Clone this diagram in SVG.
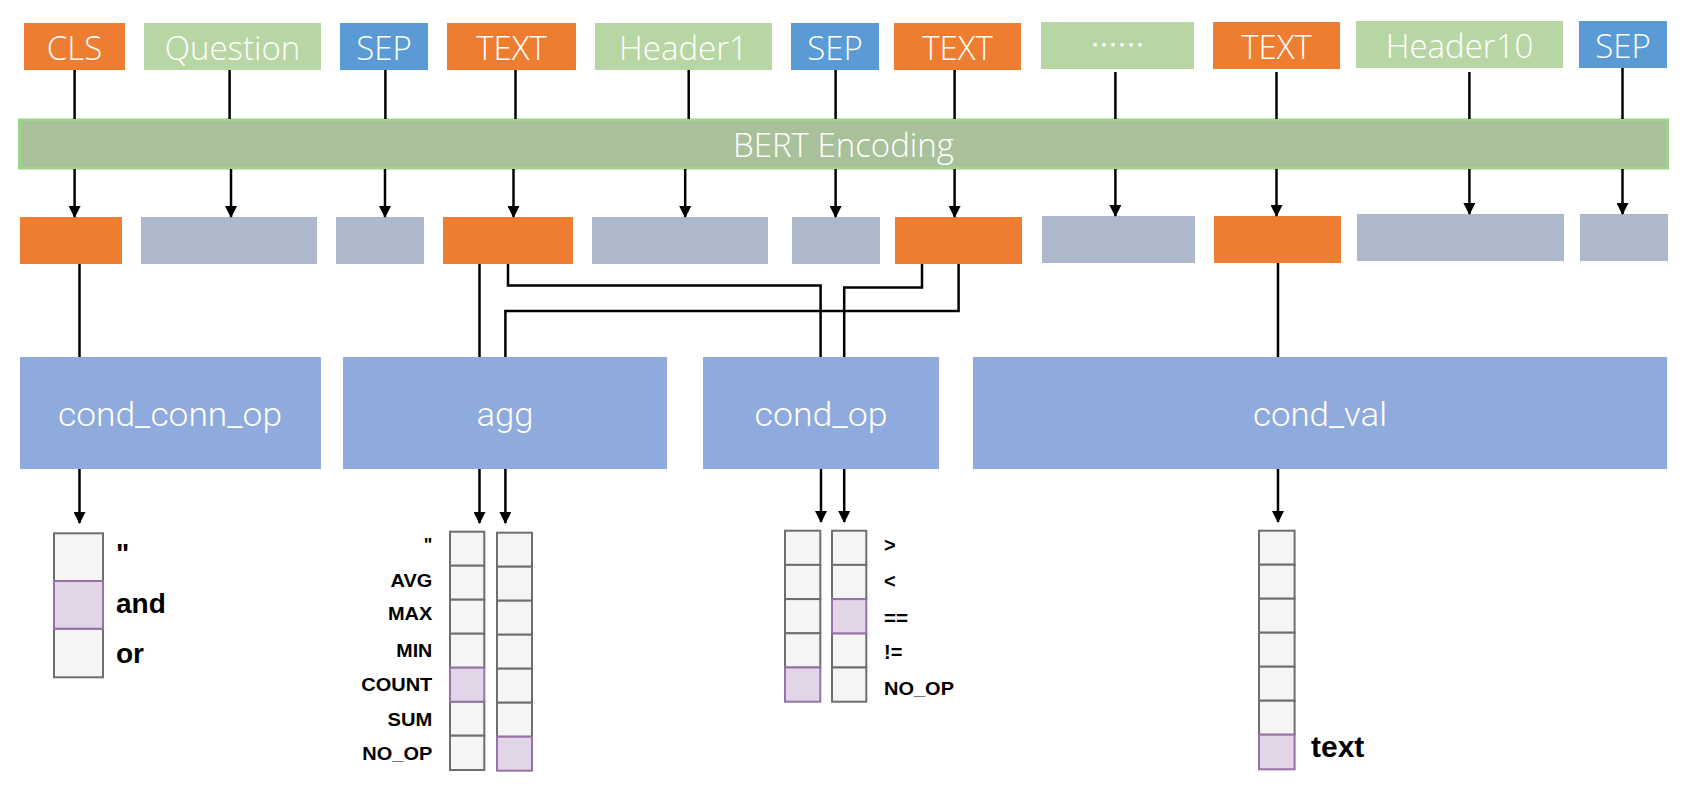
<svg xmlns="http://www.w3.org/2000/svg" width="1682" height="786" viewBox="0 0 1682 786">
<style>
.tok{font-family:"Open Sans","Liberation Sans",sans-serif;font-weight:300;font-size:33px;fill:#fff;text-anchor:middle}
.org{fill:#ED7D31}
.grn{fill:#B8D6A3}
.blu{fill:#5B9BD5}
.emb{fill:#ADB9CA}
.node{fill:#8FAADC}
.nt{font-family:Roboto,"Liberation Sans",sans-serif;font-weight:300;font-size:33px;fill:#fff;text-anchor:middle}
.cell{fill:#F5F5F5;stroke:#6E6E6E;stroke-width:2}
.sel{fill:#E1D5E7;stroke:#9673A6;stroke-width:2}
.lab{font-family:"Liberation Sans",Arial,sans-serif;font-weight:bold;font-size:18px;fill:#000}
.sym{font-family:"Liberation Sans",Arial,sans-serif;font-weight:bold;font-size:20px;fill:#000}
.big{font-family:"Liberation Sans",Arial,sans-serif;font-weight:bold;font-size:28px;fill:#000}
.c{fill:none;stroke:#000;stroke-width:2.5}
.a{fill:none;stroke:#000;stroke-width:2.5;marker-end:url(#ah)}
</style>
<defs>
<marker id="ah" viewBox="0 0 12 12" markerWidth="12" markerHeight="12" refX="11" refY="6" orient="auto" markerUnits="userSpaceOnUse">
<path d="M0,0 L12,6 L0,12 z" fill="#000"/>
</marker>
</defs>
<rect width="1682" height="786" fill="#fff"/>

<!-- input tokens -->
<g id="tok-cls"><rect class="org" x="24" y="23" width="101" height="47"/><text class="tok" x="74.5" y="60">CLS</text></g>
<g id="tok-question"><rect class="grn" x="144" y="23" width="177" height="47"/><text class="tok" x="232.5" y="60">Question</text></g>
<g id="tok-sep1"><rect class="blu" x="340" y="23" width="88" height="47"/><text class="tok" x="384" y="60">SEP</text></g>
<g id="tok-text1"><rect class="org" x="447" y="23" width="129" height="47"/><text class="tok" x="511.5" y="60">TEXT</text></g>
<g id="tok-header1"><rect class="grn" x="595" y="23" width="177" height="47"/><text class="tok" x="683.5" y="60">Header1</text></g>
<g id="tok-sep2"><rect class="blu" x="791" y="23" width="88" height="47"/><text class="tok" x="835" y="60">SEP</text></g>
<g id="tok-text2"><rect class="org" x="894" y="23" width="127" height="47"/><text class="tok" x="957.5" y="60">TEXT</text></g>
<g id="tok-dots"><rect class="grn" x="1041" y="22" width="153" height="47"/><text x="1117.5" y="55" font-family="'Noto Sans CJK SC','Noto Sans',sans-serif" font-size="27" fill="#fff" text-anchor="middle">……</text></g>
<g id="tok-text3"><rect class="org" x="1213" y="22" width="127" height="47"/><text class="tok" x="1276.5" y="58.5">TEXT</text></g>
<g id="tok-header10"><rect class="grn" x="1356" y="21" width="207" height="47"/><text class="tok" x="1459.5" y="58">Header10</text></g>
<g id="tok-sep3"><rect class="blu" x="1579" y="21" width="88" height="47"/><text class="tok" x="1623" y="58">SEP</text></g>

<!-- BERT bar -->
<g id="bert"><rect x="19.5" y="120" width="1648" height="48" fill="#A9C19A" stroke="#A0D38B" stroke-width="3"/><text class="tok" x="843.5" y="157">BERT Encoding</text></g>

<!-- embeddings -->
<g id="emb-cls"><rect class="org" x="20" y="217" width="102" height="47"/></g>
<g id="emb-question"><rect class="emb" x="141" y="217" width="176" height="47"/></g>
<g id="emb-sep1"><rect class="emb" x="336" y="217" width="88" height="47"/></g>
<g id="emb-text1"><rect class="org" x="443" y="217" width="130" height="47"/></g>
<g id="emb-header1"><rect class="emb" x="592" y="217" width="176" height="47"/></g>
<g id="emb-sep2"><rect class="emb" x="792" y="217" width="88" height="47"/></g>
<g id="emb-text2"><rect class="org" x="895" y="217" width="127" height="47"/></g>
<g id="emb-dots"><rect class="emb" x="1042" y="216" width="153" height="47"/></g>
<g id="emb-text3"><rect class="org" x="1214" y="216" width="127" height="47"/></g>
<g id="emb-header10"><rect class="emb" x="1357" y="214" width="207" height="47"/></g>
<g id="emb-sep3"><rect class="emb" x="1580" y="214" width="88" height="47"/></g>

<!-- task nodes -->
<g id="node-cond-conn-op"><rect class="node" x="20" y="357" width="301" height="112"/><text class="nt" x="170" y="426" textLength="224" lengthAdjust="spacingAndGlyphs">cond_conn_op</text></g>
<g id="node-agg"><rect class="node" x="343" y="357" width="324" height="112"/><text class="nt" x="505" y="426" textLength="57" lengthAdjust="spacingAndGlyphs">agg</text></g>
<g id="node-cond-op"><rect class="node" x="703" y="357" width="236" height="112"/><text class="nt" x="821" y="426" textLength="133" lengthAdjust="spacingAndGlyphs">cond_op</text></g>
<g id="node-cond-val"><rect class="node" x="973" y="357" width="694" height="112"/><text class="nt" x="1320" y="426" textLength="134" lengthAdjust="spacingAndGlyphs">cond_val</text></g>

<!-- connectors -->
<g id="connectors">
<path class="c" d="M74.6,70 V119 M229.6,70 V119 M385.4,70 V119 M515.5,70 V119 M688.7,70 V119 M835.6,70 V119 M954.6,70 V119 M1115.4,72 V119 M1276.5,72 V119 M1469.4,72 V119 M1622.5,68 V119"/>
<path class="a" d="M74.6,169 V217"/>
<path class="a" d="M231,169 V217"/>
<path class="a" d="M385,169 V217"/>
<path class="a" d="M513.5,169 V217"/>
<path class="a" d="M685.2,169 V217"/>
<path class="a" d="M835.6,169 V217"/>
<path class="a" d="M954.6,169 V217"/>
<path class="a" d="M1115.4,169 V216"/>
<path class="a" d="M1276.5,169 V216"/>
<path class="a" d="M1469.4,169 V214"/>
<path class="a" d="M1622.5,169 V214"/>
<path class="c" d="M79.5,264 V357"/>
<path class="c" d="M479.5,264 V357"/>
<path class="c" d="M508,264 V285.5 H820.6 V357"/>
<path class="c" d="M922,264 V287.5 H844.2 V357"/>
<path class="c" d="M958.6,264 V311 H505.4 V357"/>
<path class="c" d="M1278,263 V357"/>
<path class="a" d="M79.5,469 V523"/>
<path class="a" d="M479.5,469 V523"/>
<path class="a" d="M505.4,469 V523"/>
<path class="a" d="M821,469 V522"/>
<path class="a" d="M844.2,469 V522"/>
<path class="a" d="M1278,469 V522"/>
</g>

<!-- cond_conn_op output -->
<g id="out-cond-conn-op">
<rect class="cell" x="54" y="533.3" width="49" height="47.8"/>
<rect class="cell" x="54" y="628.7" width="49" height="48.6"/>
<rect class="sel" x="54" y="581" width="49" height="47.7"/>
<text class="big" x="116" y="563.3">"</text>
<text class="big" x="116" y="613.3">and</text>
<text class="big" x="116" y="663.3">or</text>
</g>

<!-- agg output -->
<g id="out-agg">
<rect class="cell" x="450" y="531.7" width="34.3" height="34"/>
<rect class="cell" x="450" y="565.7" width="34.3" height="34"/>
<rect class="cell" x="450" y="599.7" width="34.3" height="34"/>
<rect class="cell" x="450" y="633.7" width="34.3" height="34"/>
<rect class="cell" x="450" y="701.7" width="34.3" height="34"/>
<rect class="cell" x="450" y="735.7" width="34.3" height="34.3"/>
<rect class="sel" x="450" y="667.7" width="34.3" height="34"/>
<rect class="cell" x="497" y="532.7" width="35" height="34"/>
<rect class="cell" x="497" y="566.7" width="35" height="34"/>
<rect class="cell" x="497" y="600.7" width="35" height="34"/>
<rect class="cell" x="497" y="634.7" width="35" height="34"/>
<rect class="cell" x="497" y="668.7" width="35" height="34"/>
<rect class="cell" x="497" y="702.7" width="35" height="34"/>
<rect class="sel" x="497" y="736.7" width="35" height="34"/>
<g text-anchor="end">
<text class="lab" x="432.3" y="550.8" textLength="8.6" lengthAdjust="spacingAndGlyphs">"</text>
<text class="lab" x="432.3" y="586.7" textLength="41.7" lengthAdjust="spacingAndGlyphs">AVG</text>
<text class="lab" x="432.3" y="620" textLength="44.3" lengthAdjust="spacingAndGlyphs">MAX</text>
<text class="lab" x="432.3" y="656.7" textLength="36" lengthAdjust="spacingAndGlyphs">MIN</text>
<text class="lab" x="432.3" y="690.7" textLength="71" lengthAdjust="spacingAndGlyphs">COUNT</text>
<text class="lab" x="432.3" y="726" textLength="44.7" lengthAdjust="spacingAndGlyphs">SUM</text>
<text class="lab" x="432.3" y="760" textLength="70" lengthAdjust="spacingAndGlyphs">NO_OP</text>
</g>
</g>

<!-- cond_op output -->
<g id="out-cond-op">
<rect class="cell" x="785" y="530.7" width="35.3" height="34.2"/>
<rect class="cell" x="785" y="564.9" width="35.3" height="34.2"/>
<rect class="cell" x="785" y="599.1" width="35.3" height="34.2"/>
<rect class="cell" x="785" y="633.3" width="35.3" height="34.2"/>
<rect class="sel" x="785" y="667.5" width="35.3" height="34.2"/>
<rect class="cell" x="832" y="530.7" width="34.3" height="34.2"/>
<rect class="cell" x="832" y="564.9" width="34.3" height="34.2"/>
<rect class="cell" x="832" y="633.3" width="34.3" height="34.2"/>
<rect class="cell" x="832" y="667.5" width="34.3" height="34.2"/>
<rect class="sel" x="832" y="599.1" width="34.3" height="34.2"/>
<text class="sym" x="884" y="551.5">&gt;</text>
<text class="sym" x="884" y="588">&lt;</text>
<text class="sym" x="884" y="625" textLength="24" lengthAdjust="spacingAndGlyphs">==</text>
<text class="sym" x="884" y="659.3">!=</text>
<text class="lab" x="884" y="695" textLength="70" lengthAdjust="spacingAndGlyphs">NO_OP</text>
</g>

<!-- cond_val output -->
<g id="out-cond-val">
<rect class="cell" x="1259" y="530.7" width="35.6" height="34"/>
<rect class="cell" x="1259" y="564.7" width="35.6" height="34"/>
<rect class="cell" x="1259" y="598.7" width="35.6" height="34"/>
<rect class="cell" x="1259" y="632.7" width="35.6" height="34"/>
<rect class="cell" x="1259" y="666.7" width="35.6" height="34"/>
<rect class="cell" x="1259" y="700.7" width="35.6" height="34"/>
<rect class="sel" x="1259" y="734.7" width="35.6" height="34.6"/>
<text x="1311" y="756.7" font-family="'Liberation Sans',Arial,sans-serif" font-weight="bold" font-size="30" fill="#000">text</text>
</g>
</svg>
